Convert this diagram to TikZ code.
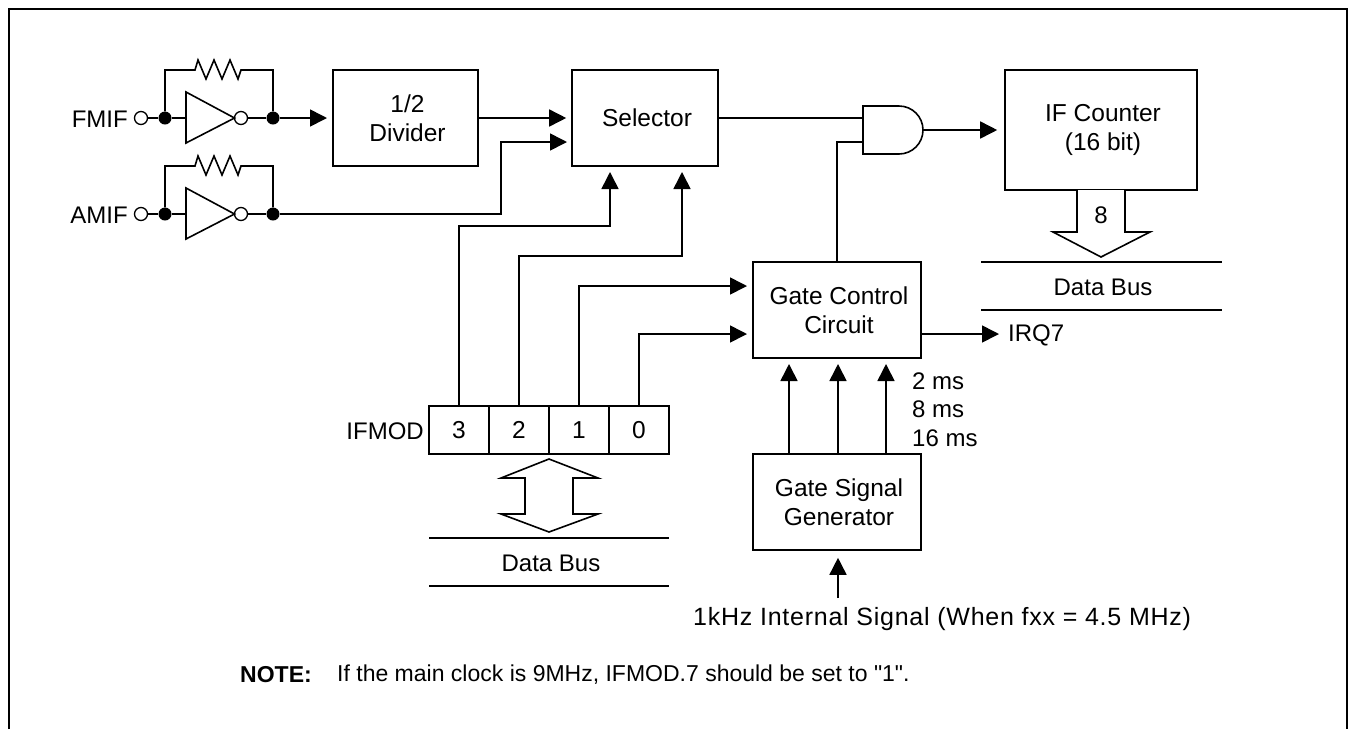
\documentclass[tikz,border=0pt]{standalone}
\usepackage{fontspec}
\setmainfont{Liberation Sans}
\newfontfamily\notefam{Liberation Sans}
\newcommand{\blk}[1]{\hspace*{4pt}#1}
\tikzset{
  block/.style={draw,line width=1.6pt,fill=white,align=center,inner sep=0pt,font=\fontsize{24.5}{28.5}\selectfont},
  lbl/.style={inner sep=0pt,font=\fontsize{24}{28.5}\selectfont},
  wire/.style={line width=1.6pt},
  sig/.style={wire,-{Triangle[length=17pt,width=17pt]},shorten >=5pt},
  jdot/.style={circle,fill=black,minimum size=13pt,inner sep=0pt},
  pin/.style={circle,draw,line width=1.3pt,fill=white,minimum size=13pt,inner sep=0pt}
}
\usetikzlibrary{arrows.meta}
\begin{document}
\begin{tikzpicture}[x=1pt,y=-1pt]
  \useasboundingbox (0,0) rectangle (1356,729);
  % frame
  \draw[line width=2pt] (9,729) -- (9,9) -- (1347,9) -- (1347,729);

  % input stages
  \foreach \name/\yy/\txt in {fm/118/FMIF,am/214/AMIF} {
    \node[pin] (\name pin) at (141,\yy) {};
    \node[jdot] (\name in) at (165,\yy) {};
    \node[jdot] (\name out) at (273,\yy) {};
    \node[pin] (\name bub) at (241,\yy) {};
    \node[lbl,anchor=east] (\name lab) at (128,\yy+1) {\txt};
    \draw[wire] (\name pin) -- (\name in) -- (186,\yy);
    \draw[wire] (186,\yy-26) -- (186,\yy+25) -- (234.5,\yy) -- cycle;
    \draw[wire] (\name bub) -- (\name out);
    \draw[wire,line join=miter] (\name in) -- (165,\yy-48) -- (195,\yy-48) -- (198,\yy-58) -- (206,\yy-39)
      -- (214,\yy-58) -- (222,\yy-39) -- (230,\yy-58) -- (238,\yy-39) -- (241,\yy-48) -- (273,\yy-48) -- (\name out);
  }

  % blocks
  \node[block,minimum width=145pt,minimum height=96pt] (divider) at (405.5,118) {\blk{1/2}\\\blk{Divider}};
  \node[block,minimum width=146pt,minimum height=96pt] (selector) at (645,118) {\blk{Selector}};
  \node[block,minimum width=192pt,minimum height=120pt] (counter) at (1101,130) {\blk{IF Counter}\\\blk{(16 bit)}};
  \node[block,minimum width=168pt,minimum height=96pt] (gatectl) at (837,310) {\blk{Gate Control}\\\blk{Circuit}};
  \node[block,minimum width=168pt,minimum height=96pt] (gategen) at (837,502) {\blk{Gate Signal}\\\blk{Generator}};

  % register
  \foreach \bit/\xx in {3/459,2/519,1/579,0/639} {
    \node[block,minimum width=60pt,minimum height=48pt] (bit\bit) at (\xx,430) {\bit};
  }
  \node[lbl,anchor=east] (ifmod) at (424,431) {IFMOD};

  % and gate
  \draw[wire,fill=white] (863,106) -- (899,106) arc (90:-90:24pt and 24pt) -- (863,154) -- cycle;
  \coordinate (andout) at (923,130);
  \coordinate (andin) at (863,142);
  \coordinate (andsel) at (863,118);

  % ports on the blocks
  \coordinate (divin) at (332,118);
  \coordinate (selam) at (572,142);
  \coordinate (selb3) at (610,167);
  \coordinate (selb2) at (682,167);
  \coordinate (ctlb1) at (752,286);
  \coordinate (ctlb0) at (752,334);
  \coordinate (ctlout) at (921,334);
  \coordinate (ctlup) at (837,262);
  \coordinate (clkin) at (838,598);

  % connectors
  \draw[sig] (fmout) -- (divin);
  \draw[sig] (divider.east) -- (selector.west);
  \draw[sig] (amout) -| (501,142) -- (selam);
  \draw[wire] (selector.east) -- (andsel);
  \draw[wire] (ctlup) |- (andin);
  \draw[sig,shorten >=7pt] (andout) -- (counter.west);
  \draw[sig] (bit3.north) |- (610,226) -- (selb3);
  \draw[sig] (bit2.north) |- (682,256) -- (selb2);
  \draw[sig] (bit1.north) |- (ctlb1);
  \draw[sig] (bit0.north) |- (ctlb0);
  \node[lbl,anchor=west] (irq) at (1008,335) {IRQ7};
  \draw[sig,shorten >=9pt] (ctlout) -- (ctlout -| irq.west);
  \foreach \xx in {789,838,886} {
    \draw[sig,shorten >=6pt] (\xx,454) -- (\xx,358);
  }
  \draw[sig,shorten >=7pt] (clkin) -- (gategen.south -| clkin);

  % timing labels
  \node[lbl,anchor=west] (tma) at (912,381) {2 ms};
  \node[lbl,anchor=west] (tmb) at (912,409.5) {8 ms};
  \node[lbl,anchor=west] (tmc) at (912,438) {16 ms};

  % bus arrows
  \draw[wire,fill=white,line join=miter] (1077,190) -- (1077,232) -- (1053,232) -- (1101,257) -- (1150,232) -- (1125,232) -- (1125,190);
  \node[lbl] (cnt8) at (1101,215) {8};
  \draw[wire] (981,262) -- (1222,262);
  \draw[wire] (981,310) -- (1222,310);
  \node[lbl] (busa) at (1103,287) {Data Bus};
  \draw[wire,line join=miter] (549,459) -- (598,478) -- (573,478) -- (573,514) -- (598,514) -- (549,532)
    -- (501,514) -- (525,514) -- (525,478) -- (501,478) -- cycle;
  \draw[wire] (429,538) -- (669,538);
  \draw[wire] (429,586) -- (669,586);
  \node[lbl] (busb) at (551,563) {Data Bus};

  % texts
  \node[lbl,anchor=west] (clk) at (693,619) {\fontsize{25}{28}\selectfont\addfontfeature{LetterSpace=3}1kHz Internal Signal (When fxx = 4.5 MHz)};
  \node[lbl,anchor=west] (notehd) at (240,675) {\fontsize{23}{28}\selectfont\textbf{NOTE:}};
  \node[lbl,anchor=west] (notetx) at (337,675) {\notefam\fontsize{23}{28}\selectfont If the main clock is 9MHz, IFMOD.7 should be set to "1".};
\end{tikzpicture}
\end{document}
